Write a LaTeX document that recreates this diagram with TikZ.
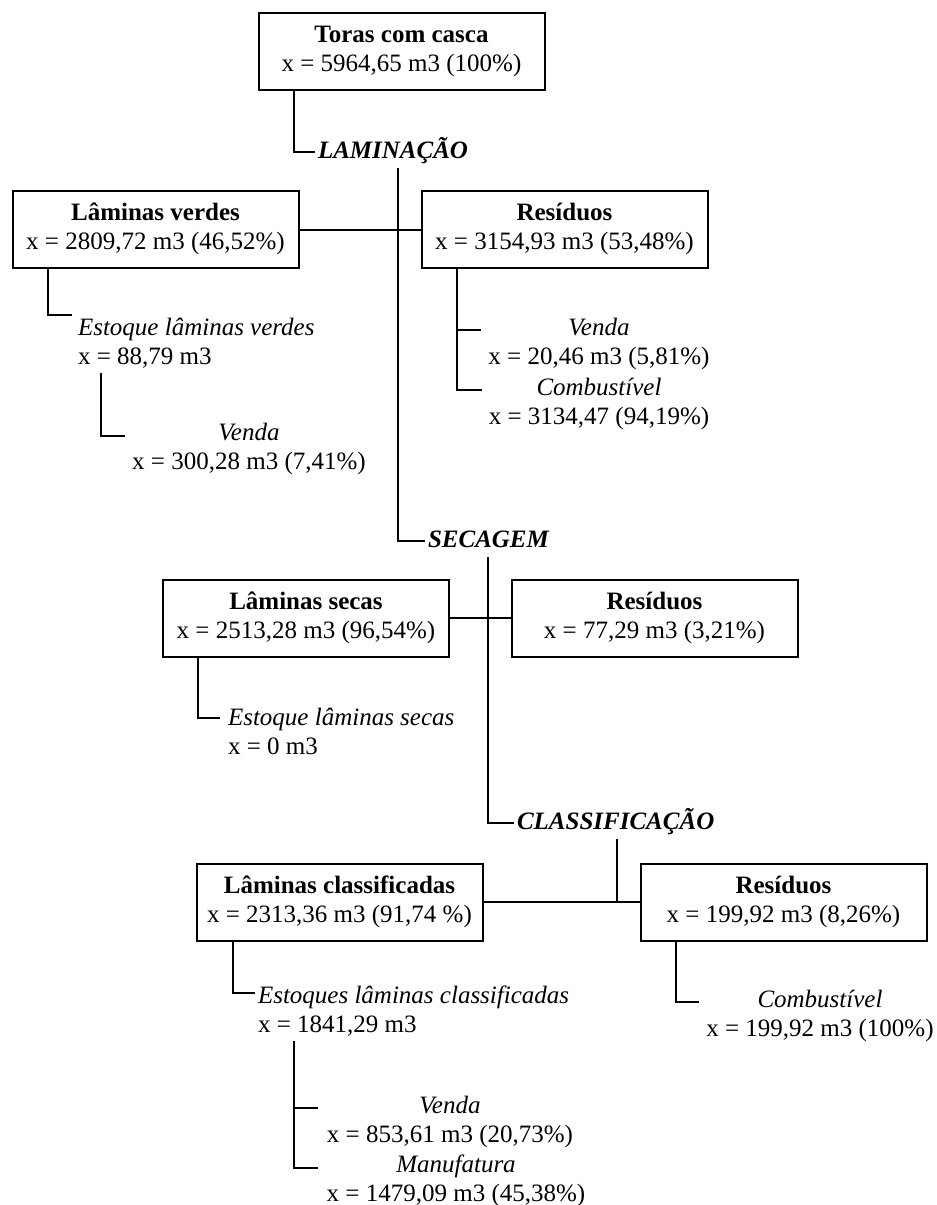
\documentclass[tikz,border=0pt]{standalone}
\usepackage{fontspec}
\setmainfont{Liberation Serif}
\usetikzlibrary{calc}
\newcommand\twoL[2]{\begin{tabular}[t]{@{}l@{}}#1\\#2\end{tabular}}
\newcommand\twoC[2]{\begin{tabular}[t]{@{}c@{}}#1\\#2\end{tabular}}
\begin{document}
\begin{tikzpicture}[x=1pt,y=-1pt,line width=2pt,
  every node/.style={font=\fontsize{25}{29}\selectfont, inner sep=0pt, outer sep=0pt},
  box/.style={draw, minimum width=286pt, minimum height=77pt},
  stage/.style={font=\fontsize{25}{29}\selectfont\bfseries\itshape, anchor=base west,
    text height=17pt, text depth=5pt, inner xsep=3pt, inner ysep=5pt},
  sub/.style={anchor=base west},
  subc/.style={anchor=base}]
\useasboundingbox (0,0) rectangle (937,1205);

% boxes
\node[box] (toras) at (401.5,51) {\twoC{\textbf{Toras com casca}}{x = 5964,65 m3 (100\%)}};
\node[box] (lv) at (155.5,229.5) {\twoC{\textbf{Lâminas verdes}}{x = 2809,72 m3 (46,52\%)}};
\node[box] (r1) at (564.5,229.5) {\twoC{\textbf{Resíduos}}{x = 3154,93 m3 (53,48\%)}};
\node[box] (ls) at (306,618) {\twoC{\textbf{Lâminas secas}}{x = 2513,28 m3 (96,54\%)}};
\node[box] (r2) at (654.5,618) {\twoC{\textbf{Resíduos}}{x = 77,29 m3 (3,21\%)}};
\node[box] (lc) at (339.5,902) {\twoC{\textbf{Lâminas classificadas}}{x = 2313,36 m3 (91,74 \%)}};
\node[box] (r3) at (783.5,902) {\twoC{\textbf{Resíduos}}{x = 199,92 m3 (8,26\%)}};

% stages
\node[stage] (lam) at (315,158) {LAMINAÇÃO};
\node[stage] (sec) at (425,547) {SECAGEM};
\node[stage] (cla) at (514,829) {CLASSIFICAÇÃO};

% sub-labels
\node[sub] (elv) at (78,335) {\twoL{\textit{Estoque lâminas verdes}}{x = 88,79 m3}};
\node[subc] (vlv) at (249,440) {\twoC{\textit{Venda}}{x = 300,28 m3 (7,41\%)}};
\node[subc] (vr1) at (599,335) {\twoC{\textit{Venda}}{x = 20,46 m3 (5,81\%)}};
\node[subc] (cr1) at (599,395) {\twoC{\textit{Combustível}}{x = 3134,47 (94,19\%)}};
\node[sub] (els) at (228,725) {\twoL{\textit{Estoque lâminas secas}}{x = 0 m3}};
\node[sub] (elc) at (258,1003) {\twoL{\textit{Estoques lâminas classificadas}}{x = 1841,29 m3}};
\node[subc] (cr3) at (820,1007) {\twoC{\textit{Combustível}}{x = 199,92 m3 (100\%)}};
\node[subc] (vlc) at (450,1113) {\twoC{\textit{Venda}}{x = 853,61 m3 (20,73\%)}};
\node[subc] (mlc) at (456,1172) {\twoC{\textit{Manufatura}}{x = 1479,09 m3 (45,38\%)}};

% trunk x positions
\coordinate (t1) at (398,0);
\coordinate (t2) at (488,0);
\coordinate (t3) at (617,0);

% connectors
\draw ($(toras.south west)+(35,0)$) |- (lam.west);
\draw (lam.south -| t1) |- (sec.west);
\draw (lv.east) -- (r1.west);
\draw ($(lv.south west)+(35,0)$) |- ($(elv.north west)+(-6,0)$);
\draw ($(elv.south west)+(23,0)$) |- ($(vlv.base west)+(-7,-4)$);
\coordinate (r1s) at ($(r1.south west)+(35,0)$);
\coordinate (vr1t) at ($(vr1.base west)+(-7,-5)$);
\draw (r1s) |- ($(cr1.base west)+(-7,-5)$);
\draw (r1s |- vr1t) -- (vr1t);

\draw (sec.south -| t2) |- (cla.west);
\draw (ls.east) -- (r2.west);
\draw ($(ls.south west)+(35,0)$) |- ($(els.base west)+(-8,-7)$);

\draw (cla.south -| t3) -- (t3 |- lc.east);
\draw (lc.east) -- (r3.west);
\draw ($(lc.south west)+(36,0)$) |- ($(elc.base west)+(-3,-10)$);
\coordinate (elcs) at ($(elc.south west)+(36,0)$);
\coordinate (vlct) at ($(vlc.base west)+(-9,-5)$);
\draw (elcs) |- ($(mlc.base west)+(-9,-4)$);
\draw (elcs |- vlct) -- (vlct);
\draw ($(r3.south west)+(35,0)$) |- ($(cr3.base west)+(-7,-5)$);
\end{tikzpicture}
\end{document}
